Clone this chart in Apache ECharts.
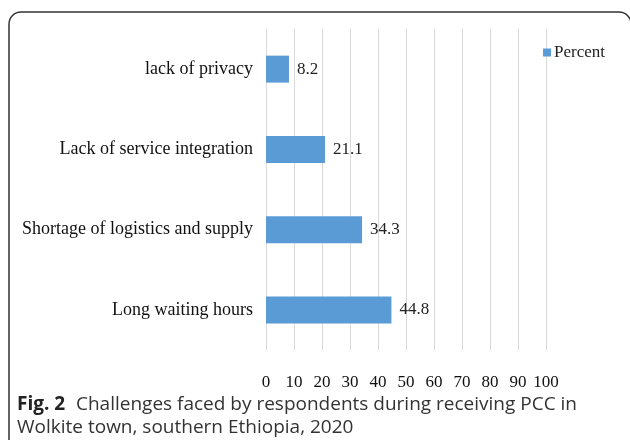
<!DOCTYPE html>
<html>
<head>
<meta charset="utf-8">
<script src="https://cdn.jsdelivr.net/npm/echarts@6/dist/echarts.min.js"></script>
<style>html,body{margin:0;padding:0;background:#fff;}#main{width:630px;height:440px;}</style>
</head>
<body>
<div id="main"></div>
<script>
var categories = ['lack of privacy', 'Lack of service integration', 'Shortage of logistics and supply', 'Long waiting hours'];
var percentValues = [8.2, 21.1, 34.3, 44.8];
var seriesName = 'Percent';
var xTicks = [0, 10, 20, 30, 40, 50, 60, 70, 80, 90, 100];
var captionBold = 'Fig. 2';
var captionLine1 = 'Challenges faced by respondents during receiving PCC in';
var captionLine2 = 'Wolkite town, southern Ethiopia, 2020';

var chart = echarts.init(document.getElementById('main'), null, {renderer: 'canvas'});
var serif = '"Liberation Serif", "Times New Roman", serif';
var sans = '"Open Sans", "Noto Sans", sans-serif';
chart.setOption({
  backgroundColor: '#fff',
  animation: false,
  grid: {left: 266, right: 84, top: 29, bottom: 90},
  legend: {
    data: [seriesName], right: 20, top: 39, itemWidth: 8, itemHeight: 8, itemGap: 4,
    icon: 'rect',
    textStyle: {fontFamily: serif, fontSize: 17, color: '#222', padding: [0, 0, 0, -2]}
  },
  xAxis: {
    type: 'value', min: xTicks[0], max: xTicks[xTicks.length - 1], interval: 10,
    axisLine: {show: false}, axisTick: {show: false},
    splitLine: {lineStyle: {color: '#d9d9d9', width: 1}},
    axisLabel: {fontFamily: serif, fontSize: 17, color: '#111', margin: 24}
  },
  yAxis: {
    type: 'category', data: categories, inverse: true,
    axisLine: {show: false}, axisTick: {show: false},
    axisLabel: {fontFamily: serif, fontSize: 18, color: '#111', margin: 13}
  },
  series: [{
    name: seriesName, type: 'bar', data: percentValues, barWidth: 27,
    itemStyle: {color: '#5b9bd5'},
    label: {show: true, position: 'right', distance: 8, fontFamily: serif, fontSize: 17, color: '#222'}
  }],
  graphic: [
    {type: 'rect', shape: {x: 9, y: 12, width: 622, height: 460, r: 12},
     style: {fill: 'none', stroke: '#333', lineWidth: 1.5}},
    {type: 'text', left: 17, top: 395, style: {text: captionBold, font: 'bold 19px ' + sans, fill: '#222'}},
    {type: 'text', left: 76, top: 395, style: {text: captionLine1, font: '19px ' + sans, fill: '#333'}},
    {type: 'text', left: 17, top: 418, style: {text: captionLine2, font: '19px ' + sans, fill: '#333'}}
  ]
});
</script>
</body>
</html>
